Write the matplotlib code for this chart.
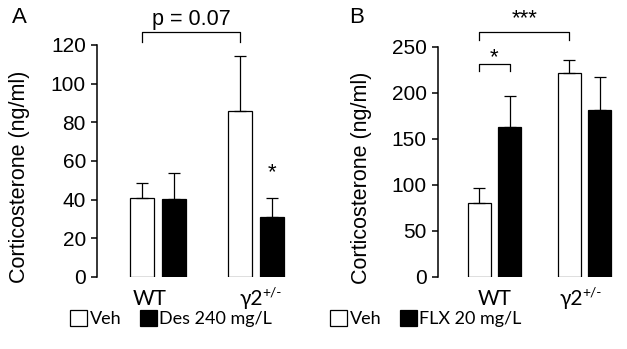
import numpy as np
import matplotlib
matplotlib.use('Agg')
import matplotlib.pyplot as plt
from matplotlib.patches import Patch

plt.rcParams['font.family'] = ['Liberation Sans', 'DejaVu Sans']

## data
groups = ['WT', 'γ2']
group_sup = ['', '+/-']

# panel A: desipramine
a_veh = [41, 86]
a_veh_err = [7.5, 28.5]
a_drug = [40.5, 31]
a_drug_err = [13.5, 10]
a_ticks = [0, 20, 40, 60, 80, 100, 120]

# panel B: fluoxetine
b_veh = [80, 221]
b_veh_err = [17, 15]
b_drug = [163, 181]
b_drug_err = [33, 36]
b_ticks = [0, 50, 100, 150, 200, 250]

W, H = 627, 349
fig = plt.figure(figsize=(W/100, H/100), dpi=100)
lab_font = ['Lato', 'DejaVu Sans']

def px_axes(x0, x1, ytop, ybot):
    return fig.add_axes([x0/W, 1-ybot/H, (x1-x0)/W, (ybot-ytop)/H])

def panel(ax, veh, veh_err, drug, drug_err, ticks, off, width, xlim, lab_dx):
    x = np.arange(len(veh))
    ax.bar(x-off, veh, width, color='white', edgecolor='black', linewidth=0.9)
    ax.bar(x+off, drug, width, color='black', edgecolor='black', linewidth=0.9)
    ax.errorbar(x-off, veh, yerr=[np.zeros(len(veh)), veh_err], fmt='none',
                ecolor='black', elinewidth=0.9, capsize=4, capthick=0.9)
    ax.errorbar(x+off, drug, yerr=[np.zeros(len(drug)), drug_err], fmt='none',
                ecolor='black', elinewidth=0.9, capsize=4, capthick=0.9)
    ax.set_xlim(*xlim)
    ax.set_ylim(ticks[0], ticks[-1])
    ax.set_yticks(ticks)
    ax.tick_params(axis='y', direction='out', length=4, width=1.1, labelsize=15, pad=4)
    ax.set_xticks([])
    # group labels (with superscript genotype)
    for xi, g, sup, dx in zip(x, groups, group_sup, lab_dx):
        if sup:
            ax.annotate(g, xy=(xi, 0), xycoords=('data', 'axes fraction'),
                        xytext=(dx, -20.5), textcoords='offset points',
                        ha='right', va='baseline', fontsize=15, family=lab_font,
                        annotation_clip=False)
            ax.annotate(sup, xy=(xi, 0), xycoords=('data', 'axes fraction'),
                        xytext=(dx-0.8, -7), textcoords='offset points',
                        ha='left', va='top', fontsize=10, family=lab_font,
                        annotation_clip=False)
        else:
            ax.annotate(g, xy=(xi, 0), xycoords=('data', 'axes fraction'),
                        xytext=(dx, -20.5), textcoords='offset points',
                        ha='center', va='baseline', fontsize=15, family=lab_font,
                        annotation_clip=False)
    for s in ['top', 'right', 'bottom']:
        ax.spines[s].set_visible(False)
    ax.spines['left'].set_linewidth(1.1)
    ax.set_ylabel('Corticosterone (ng/ml)', fontsize=15.5)
    ax.yaxis.set_label_coords(-0.345, 0.43)
    return x

def bracket(ax, x0, x1, y, drop):
    ax.plot([x0, x0, x1, x1], [y-drop, y, y, y-drop], color='black', lw=0.9, clip_on=False)

# panel A
axA = px_axes(97, 290, 45, 277)
off_a = 16/98
xa = panel(axA, a_veh, a_veh_err, a_drug, a_drug_err, a_ticks, off_a, 24/98,
           (-0.622, 1.347), lab_dx=[-6, 5])
bracket(axA, xa[0]-off_a, xa[1]-off_a, 126.5, 5)
axA.text((xa[0]+xa[1])/2 - off_a, 133, 'p = 0.07', ha='center', va='center', fontsize=15.5, clip_on=False)
axA.text(xa[1]+off_a, 54, '*', ha='center', va='center', fontsize=16)

# panel B
axB = px_axes(437.7, 627, 46.7, 277)
off_b = 15.25/90
xb = panel(axB, b_veh, b_veh_err, b_drug, b_drug_err, b_ticks, off_b, 23/90,
           (-0.631, 1.472), lab_dx=[0, -1])
bracket(axB, xb[0]-off_b, xb[0]+off_b, 231, 7.5)
axB.text(xb[0], 238, '*', ha='center', va='center', fontsize=16)
bracket(axB, xb[0]-off_b, xb[1]-off_b, 266, 8.5)
axB.text((xb[0]+xb[1])/2 - off_b, 280, '***', ha='center', va='center', fontsize=16, clip_on=False)

# legends
def legend(ax, label, x_px):
    h = [Patch(facecolor='white', edgecolor='black', linewidth=0.9, label='Veh'),
         Patch(facecolor='black', edgecolor='black', linewidth=0.9, label=label)]
    ax.legend(handles=h, loc='center left', bbox_to_anchor=(x_px/W, 1-318.5/H),
              bbox_transform=fig.transFigure, ncol=2, frameon=False,
              prop={'family': 'Lato', 'size': 13}, handlelength=0.95, handleheight=1.0,
              handletextpad=0.15, columnspacing=1.0, borderpad=0, borderaxespad=0)

legend(axA, 'Des 240 mg/L', 70)
legend(axB, 'FLX 20 mg/L', 330)

fig.text(12/W, 1-17.5/H, 'A', fontsize=16, ha='left', va='center')
fig.text(349/W, 1-17.5/H, 'B', fontsize=16, ha='left', va='center')

fig.savefig('out.png', dpi=100)
